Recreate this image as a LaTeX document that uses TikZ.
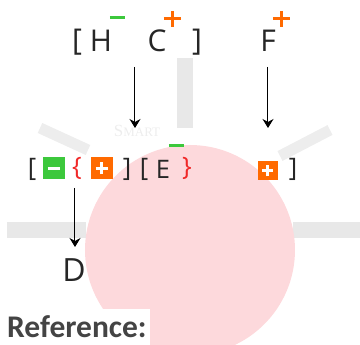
\documentclass[tikz,border=0pt]{standalone}
\usepackage{fontspec}
\setmainfont{Open Sans}
\newfontfamily\reffont{Carlito}
\newfontfamily\wmfont{Liberation Serif}
\usetikzlibrary{arrows.meta}
\definecolor{plusor}{HTML}{FF6A00}
\definecolor{minusgr}{HTML}{3CC83C}
\definecolor{pinkbg}{HTML}{FDD9DC}
\definecolor{rayg}{HTML}{E8E8E8}
\definecolor{txt}{HTML}{262626}
\definecolor{bracec}{HTML}{F02828}
\definecolor{refc}{HTML}{444444}
\begin{document}
\begin{tikzpicture}[x=1pt,y=-1pt,
  top/.style={font=\fontsize{30}{30}\selectfont, text=txt, inner sep=0pt},
  mid/.style={font=\fontsize{25.5}{25.5}\selectfont, text=txt, inner sep=0pt},
  red/.style={mid, text=bracec},
  sqbox/.style={inner sep=0pt, minimum width=22pt, minimum height=22pt},
  gbox/.style={sqbox, fill=minusgr},
  obox/.style={sqbox, fill=plusor},
  sign/.style={line width=3pt},
  arr/.style={line width=1pt, -{Stealth[length=9pt,width=11pt]}},
  ray/.style={fill=rayg, draw=none}
]
\useasboundingbox (0,0) rectangle (360,345);
% faint background
\fill[ray] (177,58) rectangle (193,128);
\fill[ray] (7,222) rectangle (86,238);
\fill[ray] (293,222) rectangle (360,238);
\draw[rayg!80, line width=11pt] (40,128) -- (88,150);
\draw[rayg!80, line width=11pt] (330,130) -- (280,156);
\node[font=\wmfont\fontsize{17}{17}\selectfont, text=black!7, inner sep=0pt] (wm) at (137,131) {S\fontsize{13}{13}\selectfont MART};
\fill[pinkbg] (190,250) circle (105);
% top row
\node[top] (tlb) at (77,42) {[};
\node[top] (h) at (101,41) {H};
\node[top] (c) at (157,41) {C};
\node[top] (trb) at (197,42) {]};
\node[top] (f) at (268,41) {F};
\draw[sign, minusgr] (110,18) -- (125,18);
\draw[sign, plusor] (164,19) -- (181,19) (172.5,11) -- (172.5,27);
\draw[sign, plusor] (273,19) -- (290,19) (281.5,11) -- (281.5,27);
% middle row
\node[mid] (mlb1) at (32,169) {[};
\node[gbox] (gm) at (54,168.5) {};
\draw[sign, white] ([xshift=-6pt]gm.center) -- ([xshift=6pt]gm.center);
\node[red] (lbr) at (77,168) {\{};
\node[obox] (om) at (102,168.5) {};
\draw[sign, white] ([xshift=-6pt]om.center) -- ([xshift=6pt]om.center)
  ([yshift=-6pt]om.center) -- ([yshift=6pt]om.center);
\node[mid] (mrb1) at (127,169) {]};
\node[mid] (mlb2) at (144,169) {[};
\node[mid] (e) at (163,169) {E};
\node[red] (rbr) at (187,168) {\}};
\draw[sign, minusgr] (169,146) -- (184,146);
\node[obox, minimum width=20pt, minimum height=19pt] (or) at (268,171) {};
\draw[sign, white] ([xshift=-5.5pt]or.center) -- ([xshift=5.5pt]or.center)
  ([yshift=-5.5pt]or.center) -- ([yshift=5.5pt]or.center);
\node[mid] (mrb2) at (293,169) {]};
% bottom
\node[font=\fontsize{32}{32}\selectfont, text=txt, inner sep=0pt] (d) at (74,270) {D};
% arrows
\coordinate (a1s) at (135,67);
\coordinate (a1e) at (135,128);
\coordinate (a2s) at (268,67);
\coordinate (a2e) at (268,128);
\coordinate (a3s) at (75,188);
\coordinate (a3e) at (75,247);
\draw[arr] (a1s) -- (a1e);
\draw[arr] (a2s) -- (a2e);
\draw[arr] (a3s) -- (a3e);
% label
\fill[white] (0,309) rectangle (150,345);
\node[font=\reffont\bfseries\fontsize{31.5}{31.5}\selectfont, text=refc, anchor=base west, inner sep=0pt] (ref) at (7,338) {Reference:};
\end{tikzpicture}
\end{document}
